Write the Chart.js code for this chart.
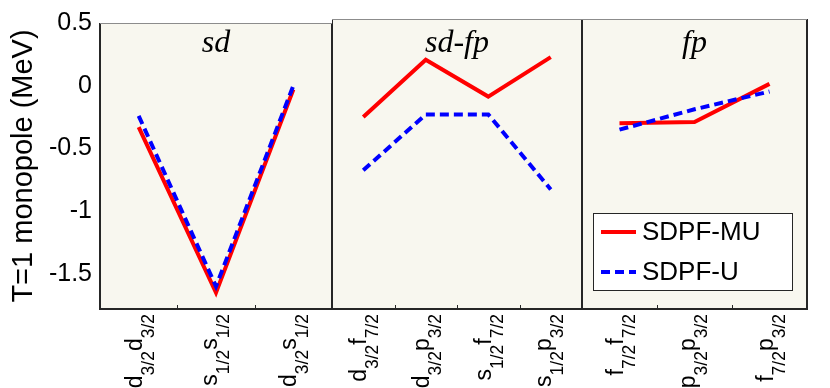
<!DOCTYPE html>
<html>
<head>
<meta charset="utf-8">
<title>T=1 monopole</title>
<script src="https://cdn.jsdelivr.net/npm/chart.js@4.4.0/dist/chart.umd.min.js"></script>
<style>
  body { margin: 0; background: #fff; }
  #wrap { display: flex; width: 830px; height: 388px; }
  canvas { display: block; }
</style>
</head>
<body>
<div id="wrap">
  <canvas id="sd" width="332" height="388"></canvas>
  <canvas id="sdfp" width="250" height="388"></canvas>
  <canvas id="fp" width="248" height="388"></canvas>
</div>
<script>
// orbit pairs: each label is a list of [letter, subscript]
const sdLabels = [
  [['d', '3/2'], ['d', '3/2']],
  [['s', '1/2'], ['s', '1/2']],
  [['d', '3/2'], ['s', '1/2']]
];
const sdfpLabels = [
  [['d', '3/2'], ['f', '7/2']],
  [['d', '3/2'], ['p', '3/2']],
  [['s', '1/2'], ['f', '7/2']],
  [['s', '1/2'], ['p', '3/2']]
];
const fpLabels = [
  [['f', '7/2'], ['f', '7/2']],
  [['p', '3/2'], ['p', '3/2']],
  [['f', '7/2'], ['p', '3/2']]
];

const seriesNames = ['SDPF-MU', 'SDPF-U'];

// monopole values (MeV)
const sdMU = [-0.33, -1.65, -0.03];
const sdU = [-0.24, -1.60, 0.0];
const sdfpMU = [-0.27, 0.18, -0.11, 0.20];
const sdfpU = [-0.69, -0.25, -0.25, -0.84];
const fpMU = [-0.32, -0.31, -0.01];
const fpU = [-0.37, -0.21, -0.07];

const yTicks = [0.5, 0, -0.5, -1, -1.5];
const yMin = -1.78;
const yMax = 0.5;

const sansFont = "'Liberation Sans', Arial, sans-serif";
const serifFont = "'Liberation Serif', 'Times New Roman', serif";

function labelText(parts) {
  return parts.map(p => p[0] + p[1]).join('');
}

// rotated label with subscripts, its end placed just under the axis
function drawTickLabel(ctx, parts, x, yTop) {
  const mainFont = '23px ' + sansFont;
  const subFont = '17.5px ' + sansFont;
  const shift = 12;
  let width = 0, top = 0, bottom = 0;
  parts.forEach(([letter, sub]) => {
    ctx.font = mainFont;
    const m = ctx.measureText(letter);
    width += m.width;
    top = Math.min(top, -m.actualBoundingBoxAscent);
    bottom = Math.max(bottom, m.actualBoundingBoxDescent);
    ctx.font = subFont;
    const s = ctx.measureText(sub);
    width += s.width;
    top = Math.min(top, shift - s.actualBoundingBoxAscent);
    bottom = Math.max(bottom, shift + s.actualBoundingBoxDescent);
  });
  const base = -(top + bottom) / 2;

  ctx.save();
  ctx.translate(x + base, yTop);
  ctx.rotate(-Math.PI / 2);
  ctx.fillStyle = '#000';
  ctx.textBaseline = 'alphabetic';
  ctx.textAlign = 'left';
  let pos = -width;
  parts.forEach(([letter, sub]) => {
    ctx.font = mainFont;
    ctx.fillText(letter, pos, 0);
    pos += ctx.measureText(letter).width;
    ctx.font = subFont;
    ctx.fillText(sub, pos, shift);
    pos += ctx.measureText(sub).width;
  });
  ctx.restore();
}

function drawLegend(chart) {
  const { ctx, chartArea: a } = chart;
  const w = 199, h = 77;
  const left = a.right - 15 - w;
  const top = a.bottom - 19 - h;
  ctx.save();
  ctx.fillStyle = '#fff';
  ctx.fillRect(left, top, w, h);
  ctx.strokeStyle = '#262626';
  ctx.lineWidth = 1;
  ctx.strokeRect(left + 0.5, top + 0.5, w, h);

  chart.data.datasets.forEach((ds, i) => {
    const y = top + 19 + i * 40;
    ctx.strokeStyle = ds.borderColor;
    ctx.lineWidth = ds.borderWidth;
    ctx.setLineDash(ds.borderDash || []);
    ctx.beginPath();
    ctx.moveTo(left + 8, y);
    ctx.lineTo(left + 43, y);
    ctx.stroke();
    ctx.setLineDash([]);
    ctx.fillStyle = '#000';
    ctx.font = '26px ' + sansFont;
    ctx.textBaseline = 'middle';
    ctx.textAlign = 'left';
    ctx.fillText(ds.label, left + 49, y + 1);
  });
  ctx.restore();
}

const panelPlugin = {
  id: 'panel',
  beforeDraw(chart) {
    const { ctx, chartArea: a } = chart;
    ctx.save();
    ctx.fillStyle = '#f8f7ef';
    ctx.fillRect(a.left, a.top, a.width, a.height);
    ctx.restore();
  },
  afterDraw(chart, args, opts) {
    const { ctx, chartArea: a } = chart;
    const xs = chart.scales.x;
    ctx.save();

    // box: grey top edge, dark sides and bottom
    ctx.strokeStyle = '#262626';
    ctx.lineWidth = 2;
    ctx.beginPath();
    ctx.moveTo(a.left, a.top);
    ctx.lineTo(a.left, a.bottom);
    ctx.lineTo(a.right, a.bottom);
    ctx.lineTo(a.right, a.top);
    ctx.stroke();
    ctx.strokeStyle = '#8c8c8c';
    ctx.lineWidth = 1;
    ctx.beginPath();
    ctx.moveTo(a.left, a.top + 0.5);
    ctx.lineTo(a.right, a.top + 0.5);
    ctx.stroke();

    // small inward ticks between categories
    ctx.strokeStyle = '#262626';
    ctx.lineWidth = 1;
    for (let i = 1; i < opts.labels.length; i++) {
      const x = Math.round((xs.getPixelForTick(i - 1) + xs.getPixelForTick(i)) / 2) + 0.5;
      ctx.beginPath();
      ctx.moveTo(x, a.bottom);
      ctx.lineTo(x, a.bottom - 4);
      ctx.stroke();
    }

    // panel title
    ctx.fillStyle = '#000';
    ctx.font = 'italic 32px ' + serifFont;
    ctx.textAlign = 'center';
    ctx.textBaseline = 'alphabetic';
    ctx.fillText(opts.title, (a.left + a.right) / 2, 52);
    ctx.restore();

    opts.labels.forEach((parts, i) => {
      drawTickLabel(ctx, parts, xs.getPixelForTick(i), a.bottom + 5);
    });

    if (opts.legend) {
      drawLegend(chart);
    }
  }
};

function makePanel(id, title, labels, mu, u, showY, padRight, legend) {
  const ctx = document.getElementById(id).getContext('2d');
  return new Chart(ctx, {
    type: 'line',
    data: {
      labels: labels.map(labelText),
      datasets: [{
        label: seriesNames[0],
        data: mu,
        borderColor: '#ff0000',
        borderWidth: 4,
        pointRadius: 0,
        tension: 0,
        order: 2
      }, {
        label: seriesNames[1],
        data: u,
        borderColor: '#0000ff',
        borderWidth: 4,
        borderDash: [9, 5],
        pointRadius: 0,
        tension: 0,
        order: 1
      }]
    },
    options: {
      responsive: false,
      animation: false,
      events: [],
      layout: { padding: { top: 19, right: padRight, left: 0, bottom: 0 } },
      scales: {
        x: {
          type: 'category',
          offset: true,
          afterFit: s => { s.height = 79; },
          grid: { display: false, drawTicks: false },
          border: { display: false },
          ticks: { display: false }
        },
        y: {
          min: yMin,
          max: yMax,
          display: showY,
          afterFit: s => { s.width = showY ? 100 : 0; },
          afterBuildTicks: s => { s.ticks = yTicks.map(v => ({ value: v })); },
          grid: { display: false, drawTicks: false },
          border: { display: false },
          ticks: {
            color: '#000',
            padding: 8,
            font: { family: sansFont, size: 25 },
            callback: v => String(v)
          },
          title: {
            display: true,
            text: 'T=1 monopole (MeV)',
            color: '#000',
            font: { family: sansFont, size: 29 },
            padding: { top: 7, bottom: 0 }
          }
        }
      },
      plugins: {
        legend: { display: false },
        tooltip: { enabled: false },
        panel: { title: title, labels: labels, legend: legend }
      }
    },
    plugins: [panelPlugin]
  });
}

makePanel('sd', 'sd', sdLabels, sdMU, sdU, true, 0, false);
makePanel('sdfp', 'sd-fp', sdfpLabels, sdfpMU, sdfpU, false, 0, false);
makePanel('fp', 'fp', fpLabels, fpMU, fpU, false, 23, true);
</script>
</body>
</html>
